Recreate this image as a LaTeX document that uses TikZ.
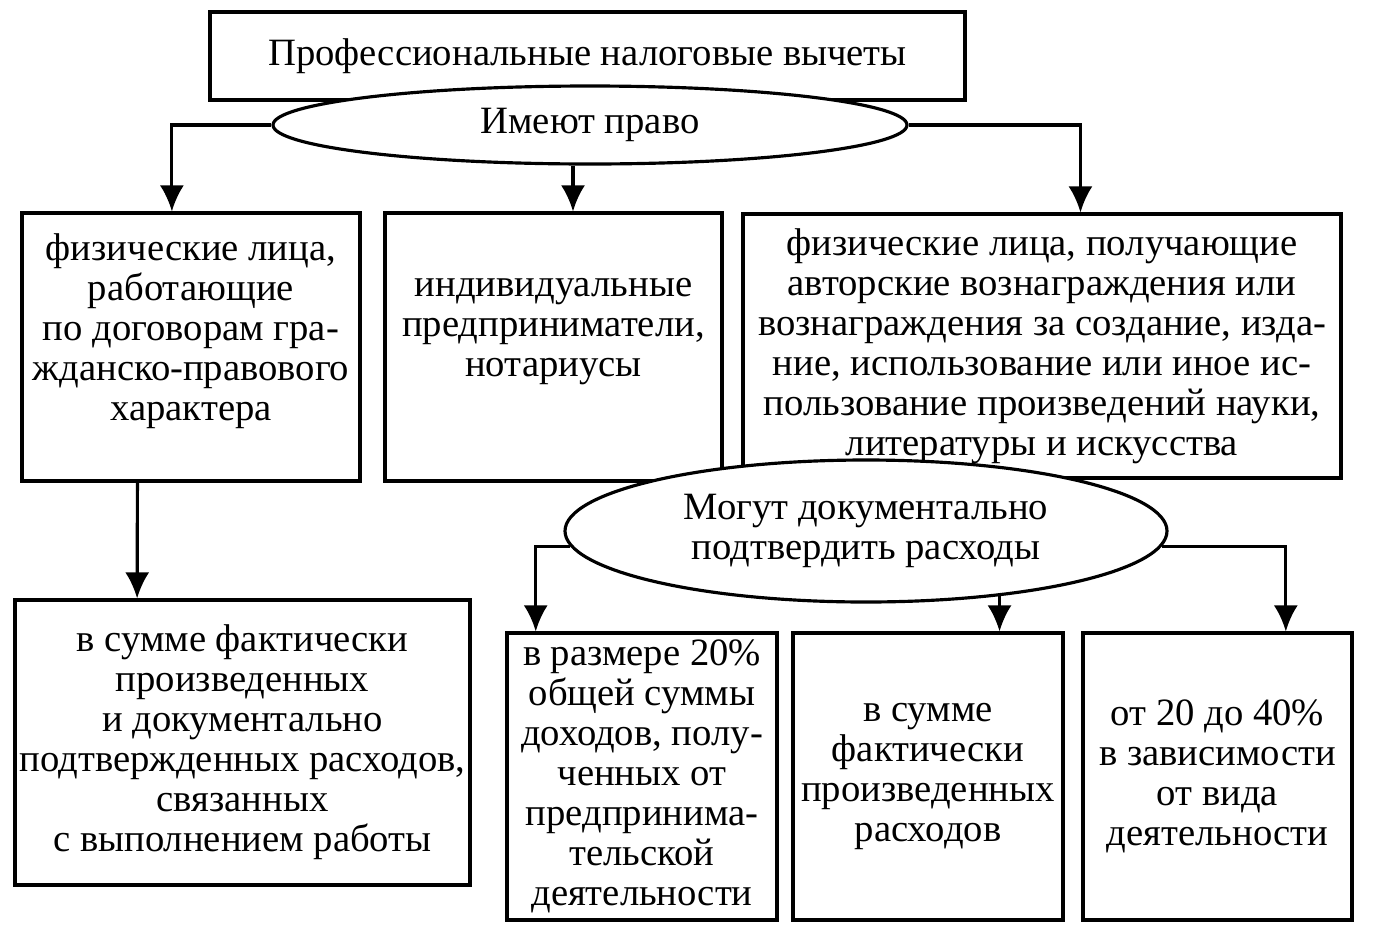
\documentclass[tikz,border=0pt]{standalone}
\usepackage{fontspec}
\setmainfont{Liberation Serif}
\usetikzlibrary{arrows.meta,shapes.geometric,calc}

\begin{document}
\begin{tikzpicture}[x=0.1mm,y=-0.1mm,line width=0.9pt,
  box/.style={draw,rectangle,align=center,inner sep=0pt},
  oval/.style={draw,ellipse,fill=white,align=center,inner sep=0pt},
  arr/.style={-{Latex[length=2.6mm,width=2.4mm]}},
  every node/.style={font=\fontsize{11}{11.4}\selectfont}]
  \useasboundingbox (0,0) rectangle (1390,937);

  \node[box,minimum width=75.5mm,minimum height=8.8mm] (title) at (587.5,56)
    {Профессиональные налоговые вычеты};

  \node[box,minimum width=33.8mm,minimum height=26.8mm] (fizlica) at (191,347)
    {физические лица,\\работающие\\по договорам гра-\\жданско-правового\\характера\\ \mbox{}};
  \node[box,minimum width=33.7mm,minimum height=26.8mm] (predpr) at (553.5,347)
    {индивидуальные\\предприниматели,\\нотариусы\\ \mbox{}};
  \node[box,minimum width=59.8mm,minimum height=26.4mm] (avtory) at (1042,346)
    {физические лица, получающие\\авторские вознаграждения или\\вознаграждения за создание, изда-\\ние, использование или иное ис-\\пользование произведений науки,\\литературы и искусства};

  \node[box,minimum width=45.5mm,minimum height=28.5mm] (fakt) at (242.5,742.5)
    {в сумме фактически\\произведенных\\и документально\\подтвержденных расходов,\\связанных\\с выполнением работы};
  \node[box,minimum width=27mm,minimum height=28.7mm] (dvadtsat) at (642,776.5)
    {в размере 20\%\\общей суммы\\доходов, полу-\\ченных от\\предпринима-\\тельской\\деятельности};
  \node[box,minimum width=27mm,minimum height=28.7mm] (summa) at (928,776.5)
    {в сумме\\фактически\\произведенных\\расходов};
  \node[box,minimum width=26.9mm,minimum height=28.7mm] (sorok) at (1217.5,776.5)
    {от 20 до 40\%\\в зависимости\\от вида\\деятельности};

  % ovals go over the box borders
  \node[oval,minimum width=63.4mm,minimum height=7.8mm] (pravo) at (590,125)
    {Имеют право};
  \node[oval,minimum width=60.2mm,minimum height=14.2mm] (mogut) at (866,531)
    {Могут документально\\подтвердить расходы};

  \draw[arr] (pravo.west) -| ($(fizlica.north west)!0.444!(fizlica.north east)$);
  \draw[arr] ([xshift=-1.7mm]pravo.south) -- ([xshift=-1.7mm]pravo.south |- predpr.north);
  \draw[arr] (pravo.east) -| ($(avtory.north west)!0.564!(avtory.north east)$);

  \draw[arr] ($(fizlica.south west)!0.343!(fizlica.south east)$) -- ($(fakt.north west)!0.27!(fakt.north east)$);

  \draw[arr] (mogut.183) -| ($(dvadtsat.north west)!0.111!(dvadtsat.north east)$);
  \draw[arr] (mogut.-26) -- (mogut.-26 |- summa.north);
  \draw[arr] (mogut.-3) -| ($(sorok.north west)!0.751!(sorok.north east)$);
\end{tikzpicture}
\end{document}
